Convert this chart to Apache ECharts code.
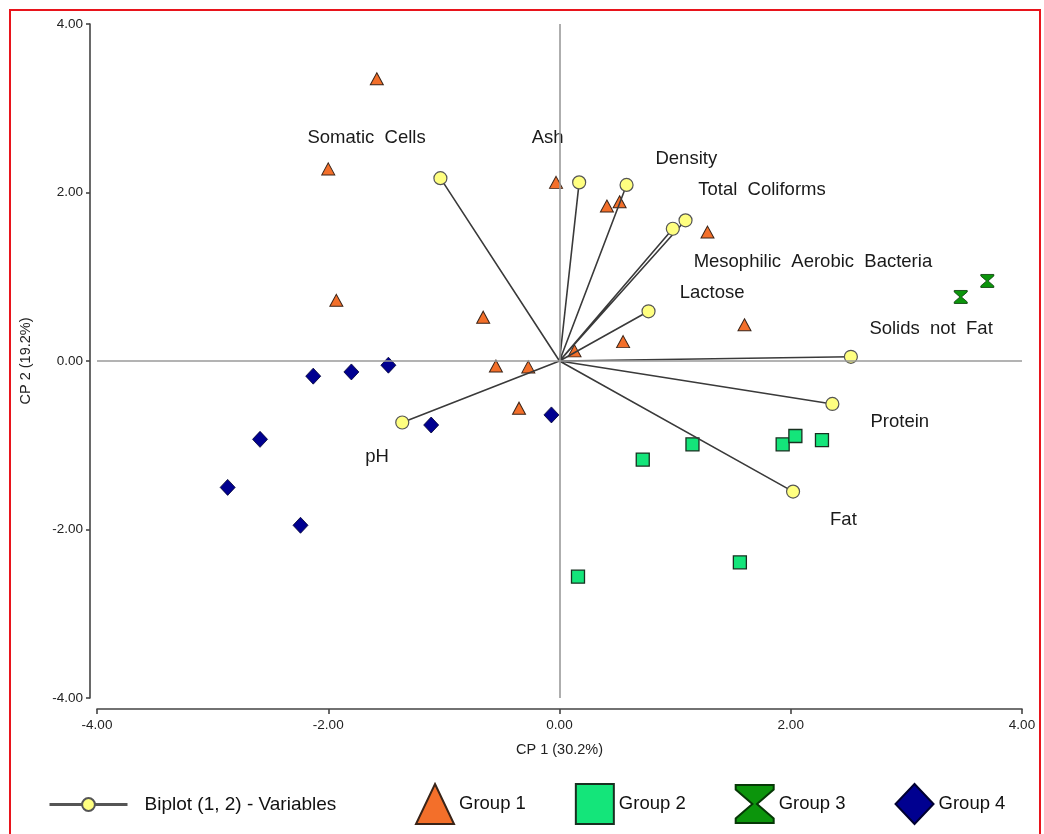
<!DOCTYPE html>
<html>
<head>
<meta charset="utf-8">
<title>Biplot CP1 x CP2</title>
<script src="https://cdn.jsdelivr.net/npm/echarts@6/dist/echarts.min.js"></script>
<style>
  html, body { margin: 0; padding: 0; background: #ffffff; }
  #chart { width: 1044px; height: 834px; }
</style>
</head>
<body>
<div id="chart"></div>
<script>
// Variable loadings (vector tips) on CP 1 / CP 2
const variableNames = ['Somatic  Cells', 'Ash', 'Density', 'Total  Coliforms', 'Mesophilic  Aerobic  Bacteria', 'Lactose', 'Solids  not  Fat', 'Protein', 'Fat', 'pH'];
const variableX = [-1.03, 0.17, 0.58, 1.09, 0.98, 0.77, 2.52, 2.36, 2.02, -1.36];
const variableY = [2.17, 2.12, 2.09, 1.67, 1.57, 0.59, 0.05, -0.51, -1.55, -0.73];

// Where each variable name is written (left edge of text, in axis units)
const labelX = [-2.18, -0.24, 0.83, 1.20, 1.16, 1.04, 2.68, 2.69, 2.34, -1.68];
const labelY = [2.65, 2.65, 2.40, 2.03, 1.175, 0.81, 0.38, -0.72, -1.89, -1.14];

// Sample scores per group
const group1X = [-1.58, -2.00, -1.93, -0.66, -0.55, -0.27, -0.35, -0.03, 0.41, 0.52, 1.28, 1.60, 0.55, 0.13];
const group1Y = [3.35, 2.28, 0.72, 0.52, -0.06, -0.07, -0.56, 2.12, 1.84, 1.89, 1.53, 0.43, 0.23, 0.12];
const group2X = [0.16, 0.72, 1.15, 1.56, 1.93, 2.04, 2.27];
const group2Y = [-2.56, -1.17, -0.99, -2.39, -0.99, -0.89, -0.94];
const group3X = [3.47, 3.70];
const group3Y = [0.76, 0.95];
const group4X = [-2.87, -2.59, -2.24, -2.13, -1.80, -1.48, -1.11, -0.07];
const group4Y = [-1.50, -0.93, -1.95, -0.18, -0.13, -0.05, -0.76, -0.64];

const groupNames = ['Group 1', 'Group 2', 'Group 3', 'Group 4'];
const biplotName = 'Biplot (1, 2) - Variables';
const axisTickValues = [-4, -2, 0, 2, 4];
const xAxisTitle = 'CP 1 (30.2%)';
const yAxisTitle = 'CP 2 (19.2%)';

const zip = (xs, ys) => xs.map((x, i) => [x, ys[i]]);

// vectors from the origin, separated by gaps so each one is its own segment
const vectorData = [];
variableX.forEach((x, i) => {
  if (i > 0) vectorData.push('-');
  vectorData.push({ value: [0, 0], symbolSize: 0 });
  vectorData.push({ value: [x, variableY[i]], symbolSize: 13 });
});

const hourglass = 'path://M0,0 L10,0 L10,1.2 L5.6,5 L10,8.8 L10,10 L0,10 L0,8.8 L4.4,5 L0,1.2 Z';
const FONT = 'Liberation Sans, Arial, sans-serif';

const chart = echarts.init(document.getElementById('chart'), null, { renderer: 'canvas' });

const tickLabelFmt = v => (axisTickValues.includes(v) ? v.toFixed(2) : '');

chart.setOption({
  backgroundColor: '#ffffff',
  animation: false,
  grid: { left: 97, right: 22, top: 24, bottom: 136 },
  xAxis: {
    type: 'value', min: -4, max: 4, interval: 2,
    offset: 11,
    name: xAxisTitle, nameLocation: 'middle', nameGap: 33,
    nameTextStyle: { fontFamily: FONT, fontSize: 14.5, color: '#222' },
    axisLine: { show: true, onZero: false, lineStyle: { color: '#444', width: 1.6 } },
    axisTick: { show: true, inside: false, length: 5, lineStyle: { color: '#444', width: 1.6 } },
    axisLabel: { formatter: tickLabelFmt, margin: 9, fontFamily: FONT, fontSize: 13.5, color: '#222' },
    splitLine: { show: false }
  },
  yAxis: {
    type: 'value', min: -4, max: 4, interval: 2,
    offset: 7,
    name: yAxisTitle, nameLocation: 'middle', nameGap: 57,
    nameTextStyle: { fontFamily: FONT, fontSize: 14.5, color: '#222' },
    axisLine: { show: true, onZero: false, lineStyle: { color: '#444', width: 1.6 } },
    axisTick: { show: true, inside: false, length: 4, lineStyle: { color: '#444', width: 1.6 } },
    axisLabel: { formatter: tickLabelFmt, margin: 7, fontFamily: FONT, fontSize: 13.5, color: '#222' },
    splitLine: { show: false }
  },
  legend: [
    {
      data: [biplotName],
      left: 48, top: 795, padding: 0,
      itemWidth: 78, itemHeight: 16,
      lineStyle: { color: '#555', width: 3 },
      textStyle: { fontFamily: FONT, fontSize: 19, color: '#111', padding: [0, 0, 0, 12] },
      selectedMode: false
    },
    {
      data: groupNames,
      left: 415, top: 783, padding: 0,
      itemWidth: 38, itemHeight: 40, itemGap: 49,
      textStyle: { fontFamily: FONT, fontSize: 18.5, color: '#111', padding: [0, 0, 0, 0] },
      selectedMode: false
    }
  ],
  graphic: [
    {
      type: 'rect', silent: true, z: 100,
      shape: { x: 10, y: 10, width: 1030, height: 900 },
      style: { fill: null, stroke: '#e8141c', lineWidth: 2 }
    }
  ],
  series: [
    {
      // origin cross-hairs
      type: 'scatter', data: [], silent: true,
      markLine: {
        silent: true, symbol: 'none', animation: false,
        label: { show: false },
        lineStyle: { color: '#9a9a9a', width: 1.6, type: 'solid' },
        data: [{ xAxis: 0 }, { yAxis: 0 }]
      }
    },
    {
      name: biplotName,
      type: 'line', z: 3,
      data: vectorData,
      connectNulls: false,
      symbol: 'circle',
      showAllSymbol: true,
      lineStyle: { color: '#3a3a3a', width: 1.6 },
      itemStyle: { color: '#ffff80', borderColor: '#555', borderWidth: 1.2, opacity: 1 },
      emphasis: { disabled: true }
    },
    {
      name: groupNames[0], type: 'scatter', z: 2,
      symbol: 'triangle', symbolSize: [13, 12],
      data: zip(group1X, group1Y),
      itemStyle: { color: '#f36f2a', borderColor: '#3a2418', borderWidth: 1, opacity: 1 }
    },
    {
      name: groupNames[1], type: 'scatter', z: 2,
      symbol: 'rect', symbolSize: 13,
      data: zip(group2X, group2Y),
      itemStyle: { color: '#14e57a', borderColor: '#183020', borderWidth: 1.3, opacity: 1 }
    },
    {
      name: groupNames[2], type: 'scatter', z: 2,
      symbol: hourglass, symbolSize: [13, 13],
      data: zip(group3X, group3Y),
      itemStyle: { color: '#0c950c', borderColor: '#063806', borderWidth: 0.8, opacity: 1 }
    },
    {
      name: groupNames[3], type: 'scatter', z: 2,
      symbol: 'diamond', symbolSize: [15, 16],
      data: zip(group4X, group4Y),
      itemStyle: { color: '#000090', borderColor: '#000030', borderWidth: 0.8, opacity: 1 }
    },
    {
      // variable names
      type: 'scatter', silent: true, z: 4,
      symbolSize: 0,
      itemStyle: { opacity: 1 },
      data: labelX.map((x, i) => ({ value: [x, labelY[i]], name: variableNames[i] })),
      label: {
        show: true, position: 'right', distance: 0,
        formatter: p => p.name,
        fontFamily: FONT, fontSize: 18.5, color: '#1a1a1a'
      }
    }
  ]
});
</script>
</body>
</html>
